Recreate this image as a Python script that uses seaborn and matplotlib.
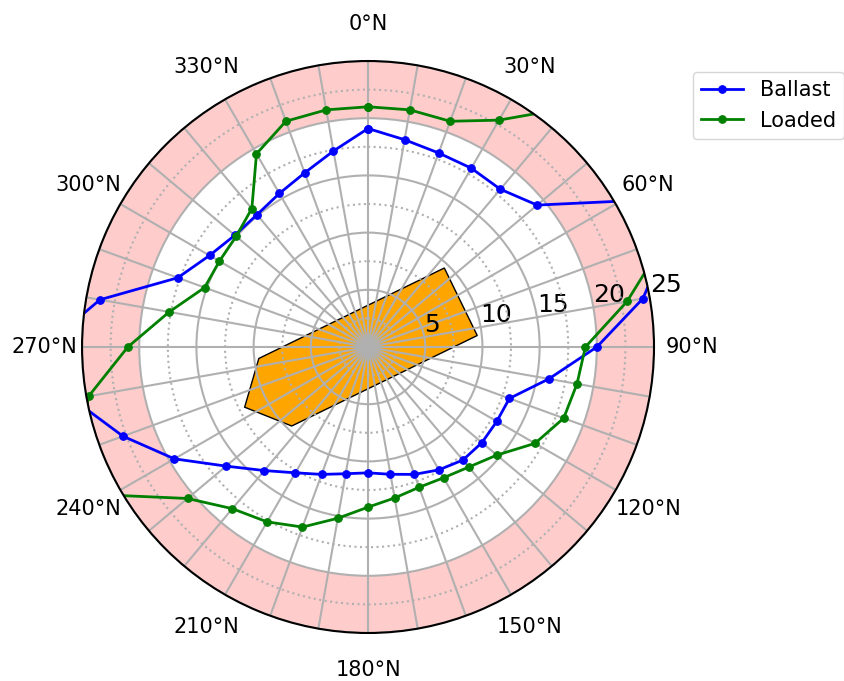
import numpy as np
import matplotlib.pyplot as plt
import seaborn as sns

# Headings in degrees (0 = North, clockwise), step 10
headings = np.arange(0, 361, 10)

# Limit speed / radius values per heading
ballast = [19.1, 18.4, 18.05, 18.05, 18.0, 19.3, 25.5, 28.0, 24.4, 20.0,
           16.05, 13.15, 13.0, 13.0, 12.9, 12.4, 11.85, 11.3, 11.0, 11.25,
           11.85, 12.7, 14.1, 16.2, 19.55, 22.8, 26.2, 28.3, 23.8, 17.7,
           16.0, 15.2, 15.1, 15.5, 16.2, 17.4, 19.1]
loaded = [21.0, 21.05, 21.0, 22.9, 27.3, 28.0, 28.0, 27.7, 23.0, 19.0,
          18.55, 18.2, 16.85, 14.7, 13.7, 13.2, 13.05, 13.4, 14.0, 15.2,
          16.75, 17.65, 18.45, 20.6, 25.9, 27.0, 24.8, 21.0, 17.65, 15.2,
          15.0, 15.05, 15.8, 19.5, 21.0, 21.05, 21.0]

# Ship outline (polar)
ship_theta = [44, 84, 224, 244, 264]
ship_r = [9.6, 9.6, 9.6, 12.0, 9.6]

# Danger band
band_lo, band_hi = 20, 25

r_ticks = [5, 10, 15, 20, 25]
r_minor = [2.5, 7.5, 12.5, 17.5, 22.5]
theta_ticks = list(range(0, 360, 10))
theta_labels = [f'{d}°N' if d % 30 == 0 else '' for d in theta_ticks]

fig = plt.figure(figsize=(8.44, 6.81), dpi=100)
ax = fig.add_axes([0.0972, 0.0705, 0.6777, 0.8399], projection='polar')
ax.set_theta_zero_location('N')
ax.set_theta_direction(-1)
ax.set_axisbelow('line')

# pink band between 20 and 25
ax.bar(0, band_hi - band_lo, width=2 * np.pi, bottom=band_lo,
       color='red', alpha=0.2, linewidth=0)

# ship
ax.fill(np.deg2rad(ship_theta), ship_r, facecolor='orange',
        edgecolor='black', linewidth=1)

th = np.deg2rad(headings)
sns.lineplot(x=th, y=ballast, ax=ax, sort=False, estimator=None,
             color='blue', marker='o', markersize=5.5, markeredgecolor='blue',
             linewidth=2, label='Ballast')
sns.lineplot(x=th, y=loaded, ax=ax, sort=False, estimator=None,
             color='green', marker='o', markersize=5.5, markeredgecolor='green',
             linewidth=2, label='Loaded')

ax.set_ylim(0, 25)
ax.set_yticks(r_ticks)
ax.set_yticks(r_minor, minor=True)
ax.set_yticklabels([str(t) for t in r_ticks])
ax.set_rlabel_position(80)
ax.set_thetagrids(theta_ticks, theta_labels)
ax.set_xlabel('')
ax.set_ylabel('')

ax.grid(True, which='major', color='#b0b0b0', linewidth=1.5, linestyle='-')
ax.yaxis.grid(True, which='minor', color='#b0b0b0', linewidth=1.5, linestyle=':')
ax.tick_params(axis='x', labelsize=15, pad=20, length=0)
ax.tick_params(axis='y', which='both', labelsize=18, length=0)
ax.spines['polar'].set_linewidth(1.5)

ax.legend(loc='upper left', bbox_to_anchor=(693 / 844, 1 - 72 / 681),
          bbox_transform=fig.transFigure, borderaxespad=0, fontsize=15)

fig.savefig('out.png', dpi=100)
